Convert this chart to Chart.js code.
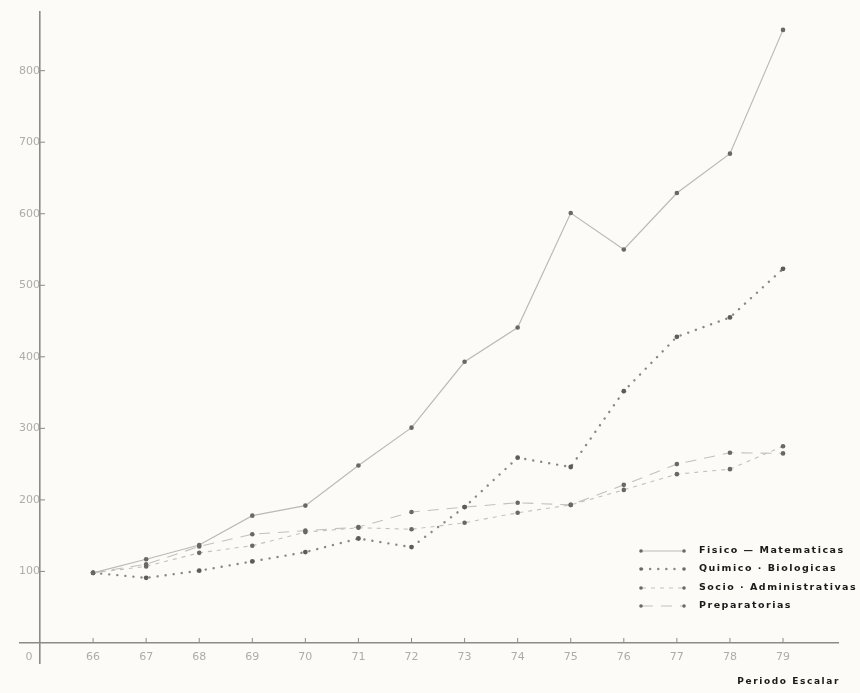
<!DOCTYPE html>
<html>
<head>
<meta charset="utf-8">
<script src="https://cdn.jsdelivr.net/npm/chart.js@4.4.1/dist/chart.umd.min.js"></script>
<style>
  html, body { margin: 0; background: #fcfbf8; }
  canvas { display: block; }
</style>
</head>
<body>
<canvas id="chart" width="860" height="693"></canvas>
<script>
// ----- Data -----
const years = [66, 67, 68, 69, 70, 71, 72, 73, 74, 75, 76, 77, 78, 79];
const fisicoMatematicas = [98, 117, 137, 178, 192, 248, 301, 393, 441, 601, 550, 629, 684, 857];
const quimicoBiologicas = [98, 91, 101, 114, 127, 146, 134, 190, 259, 246, 352, 428, 455, 523];
const socioAdministrativas = [98, 107, 126, 136, 155, 161, 159, 168, 182, 193, 214, 236, 243, 275];
const preparatorias = [98, 110, 135, 152, 157, 162, 183, 190, 196, 193, 221, 250, 266, 265];

const seriesLabels = ["Fisico — Matematicas", "Quimico · Biologicas", "Socio · Administrativas", "Preparatorias"];
const xTicks = [65, 66, 67, 68, 69, 70, 71, 72, 73, 74, 75, 76, 77, 78, 79];
const yTicks = [100, 200, 300, 400, 500, 600, 700, 800];
const xTitle = "Periodo Escalar";

// Helpers
function toPoints(values) {
  return values.map((v, i) => ({ x: years[i], y: v }));
}

const TICK_COLOR = "#aeaca8";
const AXIS_COLOR = "#8d8b88";

// background, tick marks, "0" label, axis title, legend
const decorPlugin = {
  id: "decor",
  beforeDraw(chart) {
    const ctx = chart.ctx;
    ctx.save();
    ctx.fillStyle = "#fcfbf8";
    ctx.fillRect(0, 0, chart.width, chart.height);
    ctx.restore();
  },
  afterDraw(chart) {
    const ctx = chart.ctx;
    const xs = chart.scales.x, ys = chart.scales.y;
    const ax = xs.getPixelForValue(65);
    const ay = ys.getPixelForValue(0);
    ctx.save();
    ctx.strokeStyle = AXIS_COLOR;
    ctx.lineWidth = 1;
    // tick marks point inward
    xTicks.slice(1).forEach(v => {
      const px = xs.getPixelForValue(v);
      ctx.beginPath();
      ctx.moveTo(px, ay);
      ctx.lineTo(px, ay - 5);
      ctx.stroke();
    });
    yTicks.forEach(v => {
      const py = ys.getPixelForValue(v);
      ctx.beginPath();
      ctx.moveTo(ax, py);
      ctx.lineTo(ax + 5, py);
      ctx.stroke();
    });
    // origin label
    ctx.fillStyle = TICK_COLOR;
    ctx.font = "11px 'DejaVu Sans'";
    ctx.textAlign = "center";
    ctx.textBaseline = "middle";
    ctx.fillText("0", ax - 11, ay + 14);

    // axis title
    ctx.fillStyle = "#1a1a1a";
    ctx.font = "bold 9px 'DejaVu Sans'";
    ctx.letterSpacing = "1.6px";
    ctx.textAlign = "right";
    ctx.fillText(xTitle, xs.right + 2, ay + 39);

    // legend
    const rows = [551, 569, 588, 606];
    ctx.font = "bold 9.5px 'DejaVu Sans'";
    ctx.letterSpacing = "1.5px";
    chart.data.datasets.forEach((ds, i) => {
      const y = rows[i];
      ctx.strokeStyle = ds.borderColor;
      ctx.lineWidth = ds.borderWidth;
      ctx.lineCap = ds.borderCapStyle || "butt";
      ctx.setLineDash(ds.borderDash || []);
      ctx.beginPath();
      ctx.moveTo(642, y);
      ctx.lineTo(682, y);
      ctx.stroke();
      ctx.setLineDash([]);
      ctx.fillStyle = "#6a6866";
      [641, 684].forEach(px => {
        ctx.beginPath();
        ctx.arc(px, y, 1.8, 0, Math.PI * 2);
        ctx.fill();
      });
      ctx.fillStyle = "#1a1a1a";
      ctx.textAlign = "left";
      ctx.fillText(seriesLabels[i], 699, y);
    });
    ctx.restore();
  }
};

const ctx = document.getElementById("chart").getContext("2d");
new Chart(ctx, {
  type: "line",
  data: {
    datasets: [
      {
        label: seriesLabels[0],
        data: toPoints(fisicoMatematicas),
        borderColor: "#bdb9b6",
        borderWidth: 1.2,
        pointRadius: 2.3,
        pointBackgroundColor: "#6a6866",
        pointBorderWidth: 0
      },
      {
        label: seriesLabels[1],
        data: toPoints(quimicoBiologicas),
        borderColor: "#8a8785",
        borderWidth: 2.4,
        borderDash: [0.1, 8],
        borderCapStyle: "round",
        pointRadius: 2.4,
        pointBackgroundColor: "#5e5c5a",
        pointBorderWidth: 0
      },
      {
        label: seriesLabels[2],
        data: toPoints(socioAdministrativas),
        borderColor: "#c4c0bc",
        borderWidth: 1.1,
        borderDash: [4, 5],
        pointRadius: 2.3,
        pointBackgroundColor: "#6a6866",
        pointBorderWidth: 0
      },
      {
        label: seriesLabels[3],
        data: toPoints(preparatorias),
        borderColor: "#c4c0bc",
        borderWidth: 1.1,
        borderDash: [11, 8],
        pointRadius: 2.3,
        pointBackgroundColor: "#6a6866",
        pointBorderWidth: 0
      }
    ]
  },
  options: {
    responsive: false,
    animation: false,
    layout: { padding: { left: 20, right: 22, top: 12, bottom: 30 } },
    plugins: { legend: { display: false }, tooltip: { enabled: false } },
    elements: { line: { tension: 0 } },
    scales: {
      x: {
        type: "linear",
        axis: "x",
        min: 64.623,
        max: 80.036,
        position: { y: 0 },
        afterBuildTicks: s => { s.ticks = xTicks.map(v => ({ value: v })); },
        ticks: {
          callback: v => (v === 65 ? "" : String(v)),
          color: TICK_COLOR,
          font: { family: "DejaVu Sans", size: 11 },
          padding: 8,
          maxRotation: 0,
          autoSkip: false
        },
        grid: { display: false, drawTicks: false },
        border: { color: AXIS_COLOR, width: 1.6 }
      },
      y: {
        type: "linear",
        axis: "y",
        min: -28,
        max: 882,
        position: { x: 65 },
        afterBuildTicks: s => { s.ticks = yTicks.map(v => ({ value: v })); },
        ticks: {
          callback: v => String(v),
          color: TICK_COLOR,
          font: { family: "DejaVu Sans", size: 11 },
          padding: 3
        },
        grid: { display: false, drawTicks: false },
        border: { color: AXIS_COLOR, width: 1.6 }
      }
    }
  },
  plugins: [decorPlugin]
});
</script>
</body>
</html>
